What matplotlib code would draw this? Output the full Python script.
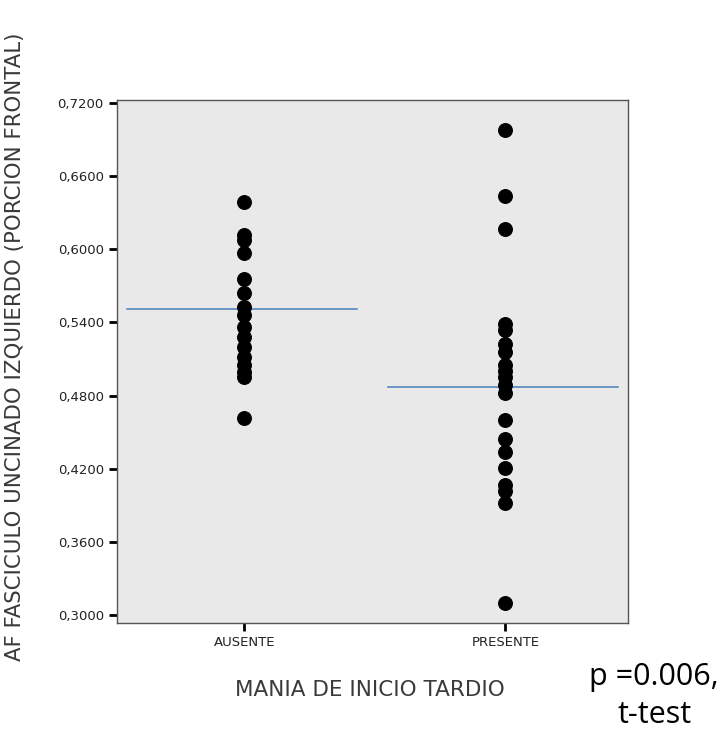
import numpy as np
from matplotlib import pyplot as plt

groups = ['AUSENTE', 'PRESENTE']
ausente = [0.639, 0.612, 0.608, 0.597, 0.576, 0.564, 0.553, 0.546, 0.536,
           0.528, 0.520, 0.512, 0.505, 0.499, 0.495, 0.462]
presente = [0.698, 0.644, 0.617, 0.539, 0.534, 0.522, 0.516, 0.505, 0.500,
            0.495, 0.489, 0.482, 0.460, 0.444, 0.434, 0.421, 0.407, 0.402,
            0.392, 0.310]
means = [0.551, 0.487]
yticks = [0.30, 0.36, 0.42, 0.48, 0.54, 0.60, 0.66, 0.72]

plt.rcParams['font.family'] = ['DejaVu Sans']

fig = plt.figure(figsize=(7.18, 7.33), dpi=100)
ax = fig.add_axes([0.163, 0.150, 0.712, 0.7136])
ax.set_facecolor('#e9e9e9')

# puntos individuales
for i, vals in enumerate([ausente, presente]):
    ax.scatter(np.full(len(vals), i + 1), vals, s=95, color='black', zorder=3)
    # linea de la media
    ax.plot([i + 1 - 0.45, i + 1 + 0.43], [means[i], means[i]],
            color='#4a7ebb', lw=1.1, zorder=2)

ax.set_xlim(0.513, 2.47)
ax.set_ylim(0.2934, 0.7225)
ax.set_xticks([1, 2])
ax.set_xticklabels(groups, fontsize=9.5, color='#222222')
ax.set_yticks(yticks)
ax.yaxis.set_major_formatter(plt.FuncFormatter(lambda v, p: ('%.4f' % v).replace('.', ',')))
ax.tick_params(axis='y', labelsize=9.5, labelcolor='#222222')
ax.tick_params(length=6, width=2, color='black')
for s in ax.spines.values():
    s.set_color('#555555')
    s.set_linewidth(1.0)

fig.text(0.021, 0.527, 'AF FASCICULO UNCINADO IZQUIERDO (PORCION FRONTAL)',
         rotation=90, ha='center', va='center', fontsize=15.3, color='#3a3a3a')
fig.text(0.515, 0.058, 'MANIA DE INICIO TARDIO', ha='center', va='center',
         fontsize=15.5, color='#3a3a3a')
fig.text(0.820, 0.077, 'p =0.006,', ha='left', va='center', fontsize=22,
         family=['Open Sans', 'DejaVu Sans'])
fig.text(0.911, 0.004, 't-test', ha='center', va='bottom', fontsize=22,
         family=['Open Sans', 'DejaVu Sans'])

plt.savefig('out.png', dpi=100)
